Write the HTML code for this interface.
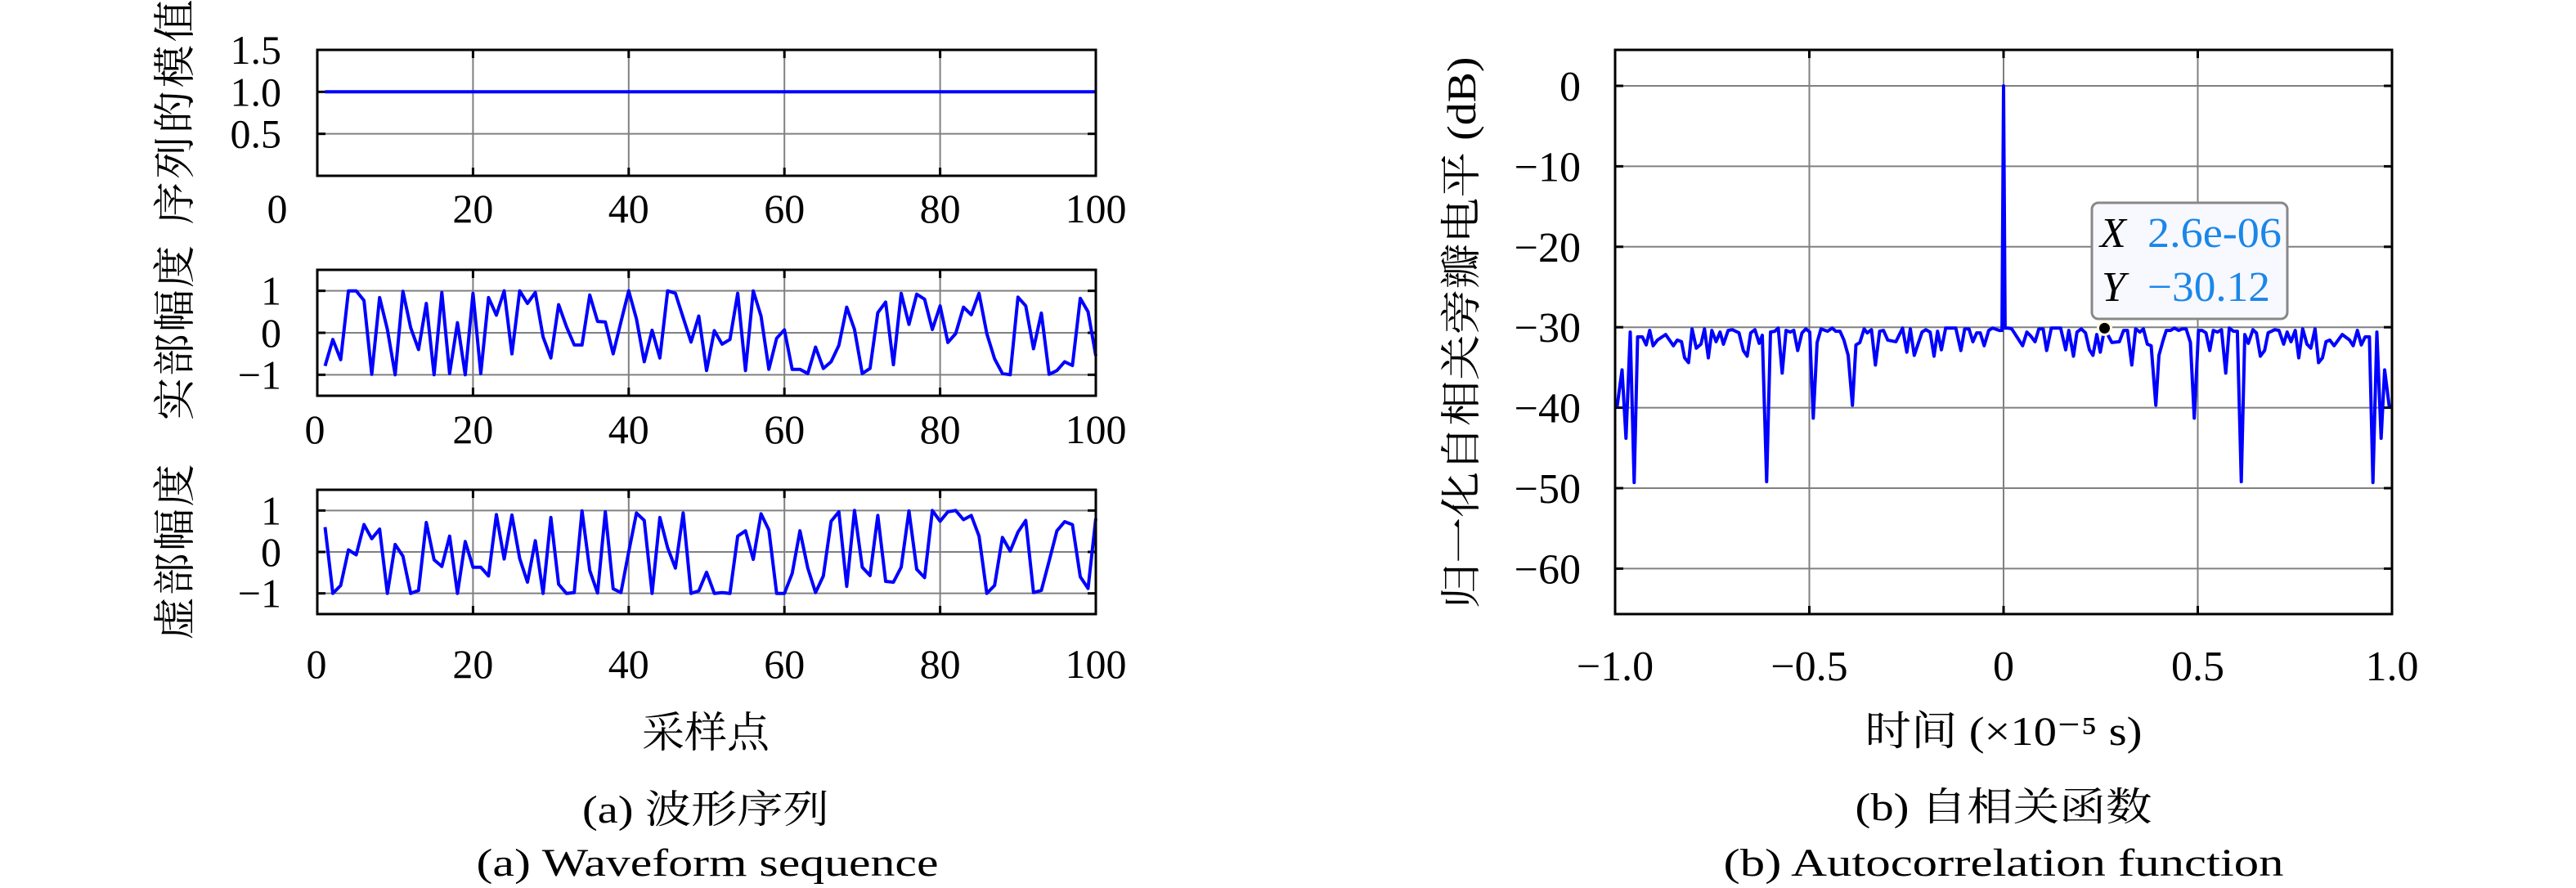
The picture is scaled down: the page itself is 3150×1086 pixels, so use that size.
<!DOCTYPE html>
<html><head><meta charset="utf-8">
<style>
html,body{margin:0;padding:0;background:#fff;}
svg{display:block;}
text{font-family:"Liberation Serif","Noto Serif CJK SC","Noto Sans CJK SC",serif;fill:#000;}
</style></head>
<body>
<svg id="fig" width="3150" height="1086" viewBox="0 0 3150 1086" xmlns="http://www.w3.org/2000/svg">
<g id="layer-a"></g>
<g id="layer-b"></g>
</svg>
<script>
// ---- Panel (a) data ----
const sampleIdx = Array.from({length:100},(_,i)=>i+1);
const magValues = new Array(100).fill(1.0);
const realValues = [-0.79,-0.16,-0.64,1.0,1.0,0.77,-0.99,0.84,0.08,-1.0,0.99,0.12,-0.4,0.7,-1.0,0.96,-0.97,0.24,-1.0,0.94,
-0.97,0.84,0.42,1.0,-0.5,1.0,0.7,0.96,-0.1,-0.6,0.67,0.15,-0.29,-0.29,0.9,0.27,0.26,-0.5,0.26,1.0,
0.33,-0.69,0.06,-0.6,1.0,0.94,0.36,-0.22,0.4,-0.9,0.05,-0.27,-0.16,0.94,-0.9,1.0,0.4,-0.87,-0.13,0.07,
-0.87,-0.87,-0.97,-0.34,-0.85,-0.69,-0.3,0.61,0.08,-0.97,-0.85,0.48,0.73,-0.76,0.94,0.2,0.92,0.8,0.08,0.64,
-0.23,-0.02,0.61,0.43,0.94,-0.02,-0.62,-0.97,-1.0,0.85,0.64,-0.38,0.47,-0.99,-0.9,-0.69,-0.78,0.82,0.5,-0.55];
const imagValues = [0.6,-1.0,-0.81,0.05,-0.07,0.66,0.32,0.55,-1.0,0.18,-0.1,-1.0,-0.93,0.71,-0.19,-0.35,0.38,-1.0,0.25,-0.37,
-0.37,-0.58,0.9,-0.17,0.89,-0.16,-0.73,0.27,-1.0,0.83,-0.78,-1.0,-0.98,0.99,-0.45,-0.99,0.97,-0.89,-0.98,0.0,
0.94,0.76,-1.0,0.83,0.1,-0.39,0.94,-1.0,-0.94,-0.49,-1.0,-0.98,-1.0,0.38,0.51,-0.18,0.92,0.53,-1.0,-1.0,
-0.52,0.51,-0.39,-0.98,-0.58,0.74,0.97,-0.83,1.0,-0.37,-0.57,0.88,-0.71,-0.73,-0.37,0.99,-0.42,-0.62,1.0,0.74,
0.97,1.0,0.78,0.88,0.38,-1.0,-0.81,0.35,0.02,0.48,0.76,-0.98,-0.93,-0.22,0.51,0.73,0.66,-0.6,-0.88,0.81];
const xTicksA = [0,20,40,60,80,100];
const magTicks = [0.5,1.0,1.5];
const magTickLabels = ["0.5","1.0","1.5"];
const ampTicks = [-1,0,1];
const ampTickLabels = ["\u22121","0","1"];

// ---- Panel (b) data ----
const lagTime = [-0.995,-0.982,-0.972,-0.961,-0.951,-0.942,-0.930,-0.920,-0.911,-0.902,-0.891,-0.870,-0.850,-0.840,-0.829,-0.821,-0.811,-0.802,-0.791,-0.779,
-0.770,-0.760,-0.751,-0.740,-0.730,-0.721,-0.709,-0.698,-0.681,-0.670,-0.660,-0.651,-0.640,-0.629,-0.621,-0.610,-0.600,-0.589,-0.580,-0.570,
-0.560,-0.549,-0.540,-0.530,-0.519,-0.509,-0.499,-0.490,-0.480,-0.470,-0.453,-0.441,-0.432,-0.421,-0.411,-0.400,-0.389,-0.380,-0.370,-0.359,
-0.351,-0.340,-0.330,-0.319,-0.309,-0.298,-0.277,-0.260,-0.249,-0.240,-0.230,-0.210,-0.200,-0.189,-0.179,-0.170,-0.160,-0.149,-0.123,-0.110,
-0.100,-0.089,-0.079,-0.069,-0.060,-0.050,-0.038,-0.028,-0.011,-0.004,0.0,0.004,0.011,0.021,0.049,0.060,0.070,0.081,0.091,0.102,
0.111,0.123,0.147,0.160,0.168,0.180,0.189,0.200,0.211,0.221,0.230,0.240,0.249,0.260,0.270,0.279,0.298,0.309,0.319,0.330,
0.340,0.351,0.360,0.370,0.380,0.392,0.400,0.411,0.419,0.430,0.440,0.451,0.460,0.470,0.481,0.491,0.502,0.511,0.521,0.531,
0.540,0.551,0.561,0.572,0.581,0.592,0.602,0.612,0.621,0.630,0.642,0.651,0.661,0.672,0.681,0.698,0.709,0.721,0.730,0.740,
0.751,0.760,0.770,0.781,0.791,0.802,0.811,0.821,0.830,0.840,0.851,0.872,0.891,0.900,0.911,0.921,0.931,0.942,0.951,0.961,
0.972,0.981,0.993];
const levelDb = [-39.9,-35.3,-43.8,-30.6,-49.3,-31.2,-31.2,-32.2,-30.4,-32.3,-31.6,-30.9,-32.3,-31.6,-31.8,-33.8,-34.4,-30.2,-32.6,-32.1,
-30.2,-33.8,-30.4,-31.8,-30.6,-32.1,-30.4,-30.3,-30.7,-32.9,-33.6,-30.7,-30.3,-32.0,-31.0,-49.2,-30.6,-30.5,-30.1,-35.7,
-30.4,-30.6,-30.4,-32.9,-30.7,-30.2,-30.6,-41.3,-31.9,-30.2,-30.5,-30.1,-30.5,-30.5,-31.6,-33.5,-39.7,-32.2,-31.9,-30.2,
-30.7,-30.3,-34.7,-30.5,-30.4,-31.6,-31.8,-30.1,-33.1,-30.2,-33.5,-30.6,-30.3,-30.6,-33.6,-30.5,-32.8,-30.1,-30.1,-32.9,
-30.2,-30.2,-31.8,-30.7,-30.7,-32.3,-30.4,-30.1,-30.4,-30.4,0.0,-30.1,-30.1,-30.2,-32.3,-30.6,-31.1,-31.8,-30.2,-30.2,
-32.9,-30.1,-30.1,-32.8,-30.4,-33.6,-30.6,-30.2,-30.7,-32.8,-33.5,-30.9,-33.1,-30.12,-31.1,-31.9,-31.8,-30.4,-30.4,-34.7,
-30.2,-30.6,-30.2,-32.1,-32.3,-39.7,-33.5,-31.6,-30.4,-30.4,-30.1,-30.4,-30.2,-30.2,-31.9,-41.3,-30.4,-30.4,-30.7,-32.9,
-30.4,-30.6,-30.3,-35.7,-30.1,-30.5,-30.5,-49.2,-30.9,-32.0,-30.3,-30.7,-33.6,-32.9,-30.7,-30.3,-30.4,-32.1,-30.6,-31.8,
-30.4,-33.8,-30.2,-32.1,-32.6,-30.2,-34.4,-33.8,-31.8,-31.6,-32.3,-30.9,-31.6,-32.3,-30.4,-32.2,-31.2,-31.2,-49.3,-30.6,
-43.8,-35.3,-39.9];
const xTicksB = [-1.0,-0.5,0,0.5,1.0];
const xTickLabelsB = ["\u22121.0","\u22120.5","0","0.5","1.0"];
const yTicksB = [0,-10,-20,-30,-40,-50,-60];
const yTickLabelsB = ["0","\u221210","\u221220","\u221230","\u221240","\u221250","\u221260"];
const tipX = [0.26];
const tipY = [-30.12];

const NS="http://www.w3.org/2000/svg";
function mk(parent,tag,attrs,txt){const e=document.createElementNS(NS,tag);for(const k in attrs)e.setAttribute(k,attrs[k]);if(txt!==undefined)e.textContent=txt;parent.appendChild(e);return e;}
function lin(d0,d1,r0,r1){return v=>r0+(v-d0)*(r1-r0)/(d1-d0);}

const LA=document.getElementById('layer-a');
const LB=document.getElementById('layer-b');

function subplot(cfg){
  const g=mk(LA,'g',{});
  
  
  const xs=lin(0,100,388,1340), ys=lin(cfg.ymin,cfg.ymax,cfg.bottom,cfg.top);
  xTicksA.forEach(t=>{ if(t>0&&t<100){const gl=mk(g,'line',{x1:xs(t),x2:xs(t),y1:cfg.top,y2:cfg.bottom,stroke:'#808080','stroke-width':2});
    }
    mk(g,'line',{x1:xs(t),x2:xs(t),y1:cfg.top,y2:cfg.top+10,stroke:'#000','stroke-width':3});
    mk(g,'line',{x1:xs(t),x2:xs(t),y1:cfg.bottom,y2:cfg.bottom-10,stroke:'#000','stroke-width':3});
  });
  cfg.yt.forEach((t,i)=>{const y=ys(t);
    if(y>cfg.top+2&&y<cfg.bottom-2){const gl=mk(g,'line',{x1:388,x2:1340,y1:y,y2:y,stroke:'#808080','stroke-width':2});
      
      mk(g,'line',{x1:388,x2:398,y1:y,y2:y,stroke:'#000','stroke-width':3});
      mk(g,'line',{x1:1330,x2:1340,y1:y,y2:y,stroke:'#000','stroke-width':3});}
    const tl=mk(g,'text',{x:344,y:y+17,'text-anchor':'end','font-size':50},cfg.ytl[i]);
    
  });
  let d='';cfg.vals.forEach((v,i)=>{d+=(i?'L':'M')+xs(sampleIdx[i]).toFixed(1)+','+ys(v).toFixed(1);});
  const p=mk(g,'path',{d:d,fill:'none',stroke:'#0000ff','stroke-width':4,'stroke-linejoin':'round'});
  
  const fr=mk(g,'rect',{x:388,y:cfg.top,width:952,height:cfg.bottom-cfg.top,fill:'none',stroke:'#000','stroke-width':3});
  
  xTicksA.forEach(t=>{const x=(t===0)?cfg.zeroX:xs(t);
    const tl=mk(g,'text',{x:x,y:cfg.xly+17,'text-anchor':'middle','font-size':50},String(t));
    });
  const yl=mk(g,'text',{x:0,y:0,'text-anchor':'middle','font-size':52,textLength:cfg.yllen,lengthAdjust:'spacing',transform:`translate(${232},${cfg.ylc}) rotate(-90)`},cfg.ylabel);
  
}
subplot({name:'magnitude-plot',top:61,bottom:215,ymin:0,ymax:1.5,yt:magTicks,ytl:magTickLabels,vals:magValues,xly:255,zeroX:339,ylabel:'序列的模值',ylc:137,yllen:275});
subplot({name:'real-part-plot',top:330,bottom:484,ymin:-1.5,ymax:1.5,yt:ampTicks,ytl:ampTickLabels,vals:realValues,xly:525,zeroX:385,ylabel:'实部幅度',ylc:407,yllen:214});
subplot({name:'imag-part-plot',top:599,bottom:751,ymin:-1.5,ymax:1.5,yt:ampTicks,ytl:ampTickLabels,vals:imagValues,xly:812,zeroX:387,ylabel:'虚部幅度',ylc:675,yllen:215});

let t;
t=mk(LA,'text',{x:863,y:914,'text-anchor':'middle','font-size':52},'采样点');

t=mk(LA,'text',{x:863,y:1006,'text-anchor':'middle','font-size':48,textLength:302,lengthAdjust:'spacingAndGlyphs'},'(a) 波形序列');

t=mk(LA,'text',{x:865,y:1071,'text-anchor':'middle','font-size':48,textLength:565,lengthAdjust:'spacingAndGlyphs'},'(a) Waveform sequence');


// ---- Panel (b) ----
const L=1975,R=2925,T=61,B=751;
const bx=lin(-1,1,L,R), by=lin(0,-10,105,203.4);
xTicksB.forEach((v,i)=>{const x=bx(v);
  if(i>0&&i<xTicksB.length-1){const gl=mk(LB,'line',{x1:x,x2:x,y1:T,y2:B,stroke:'#808080','stroke-width':2});
    }
  mk(LB,'line',{x1:x,x2:x,y1:T,y2:T+10,stroke:'#000','stroke-width':3});
  mk(LB,'line',{x1:x,x2:x,y1:B,y2:B-10,stroke:'#000','stroke-width':3});
  const tl=mk(LB,'text',{x:x,y:832,'text-anchor':'middle','font-size':52},xTickLabelsB[i]);
  
});
yTicksB.forEach((v,i)=>{const y=by(v);
  const gl=mk(LB,'line',{x1:L,x2:R,y1:y,y2:y,stroke:'#808080','stroke-width':2});
  
  mk(LB,'line',{x1:L,x2:L+10,y1:y,y2:y,stroke:'#000','stroke-width':3});
  mk(LB,'line',{x1:R-10,x2:R,y1:y,y2:y,stroke:'#000','stroke-width':3});
  const tl=mk(LB,'text',{x:1933,y:y+18,'text-anchor':'end','font-size':52},yTickLabelsB[i]);
  
});
let d='';lagTime.forEach((tv,i)=>{d+=(i?'L':'M')+bx(tv).toFixed(1)+','+by(levelDb[i]).toFixed(1);});
const ac=mk(LB,'path',{d:d,fill:'none',stroke:'#0000ff','stroke-width':4,'stroke-linejoin':'round'});

const frb=mk(LB,'rect',{x:L,y:T,width:R-L,height:B-T,fill:'none',stroke:'#000','stroke-width':3});


// datatip
const dtx=bx(tipX[0]), dty=by(tipY[0]);
const tg=mk(LB,'g',{});

mk(tg,'rect',{x:2558,y:248,width:239,height:142,rx:8,fill:'#f8f8ff',stroke:'#888','stroke-width':3});
mk(tg,'text',{x:2568,y:302,'font-size':52,'font-style':'italic'},'X');
mk(tg,'text',{x:2626,y:302,'font-size':52,style:'fill:#1a87e8',textLength:164,lengthAdjust:'spacingAndGlyphs'},'2.6e-06');
mk(tg,'text',{x:2570,y:368,'font-size':52,'font-style':'italic'},'Y');
mk(tg,'text',{x:2626,y:368,'font-size':52,style:'fill:#1a87e8',textLength:150,lengthAdjust:'spacingAndGlyphs'},'\u221230.12');
const dot=mk(LB,'circle',{cx:dtx,cy:dty,r:8,fill:'#000',stroke:'#fffbe0','stroke-width':3});


t=mk(LB,'text',{x:0,y:0,'text-anchor':'middle','font-size':50,textLength:675,lengthAdjust:'spacingAndGlyphs',transform:'translate(1804,407) rotate(-90)'},'归一化自相关旁瓣电平 (dB)');

t=mk(LB,'text',{x:2450,y:911,'text-anchor':'middle','font-size':50,textLength:339,lengthAdjust:'spacingAndGlyphs'},'时间 (×10⁻⁵ s)');

t=mk(LB,'text',{x:2450,y:1003,'text-anchor':'middle','font-size':48,textLength:363,lengthAdjust:'spacingAndGlyphs'},'(b) 自相关函数');

t=mk(LB,'text',{x:2450,y:1071,'text-anchor':'middle','font-size':48,textLength:685,lengthAdjust:'spacingAndGlyphs'},'(b) Autocorrelation function');

</script>
</body></html>
